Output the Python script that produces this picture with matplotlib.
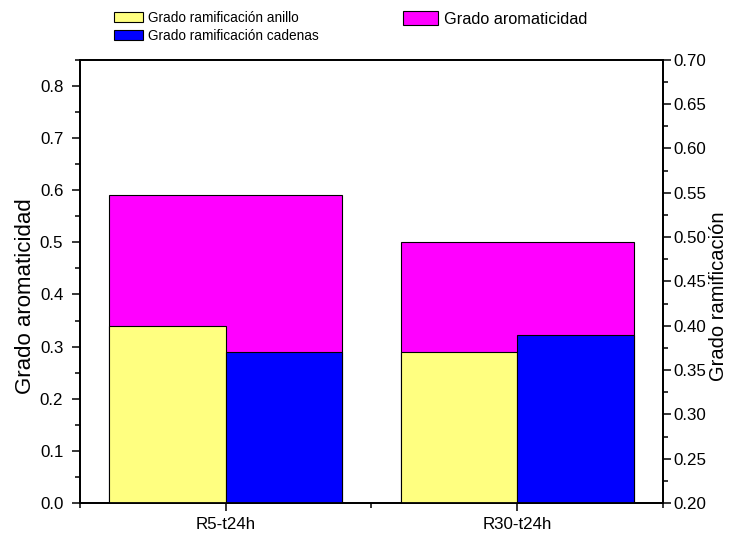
import matplotlib
matplotlib.use("Agg")
import matplotlib.pyplot as plt
from matplotlib.patches import Patch
from matplotlib.ticker import MultipleLocator, FormatStrFormatter

plt.rcParams['font.family'] = ['Liberation Sans', 'DejaVu Sans']

categories = ["R5-t24h", "R30-t24h"]
aromaticidad = [0.59, 0.50]
ramif_anillo = [0.40, 0.37]
ramif_cadenas = [0.37, 0.39]

col_arom = "#ff00ff"
col_anillo = "#ffff80"
col_cadenas = "#0000ff"

fig = plt.figure(figsize=(7.34, 5.34), dpi=100)
ax = fig.add_axes([0.109, 0.058, 0.794, 0.830])
ax2 = ax.twinx()

x = [1, 2]
ax.bar(x, aromaticidad, width=0.8, color=col_arom, edgecolor="black", linewidth=0.8, zorder=2)
ax2.bar([v - 0.2 for v in x], ramif_anillo, width=0.4, color=col_anillo,
        edgecolor="black", linewidth=0.8, zorder=2)
ax2.bar([v + 0.2 for v in x], ramif_cadenas, width=0.4, color=col_cadenas,
        edgecolor="black", linewidth=0.8, zorder=2)

ax.set_xlim(0.5, 2.5)
ax.set_ylim(0, 0.85)
ax2.set_ylim(0.20, 0.70)

ax.set_xticks(x)
ax.set_xticklabels(categories)
ax.xaxis.set_minor_locator(MultipleLocator(0.5))
ax.yaxis.set_major_locator(MultipleLocator(0.1))
ax.yaxis.set_minor_locator(MultipleLocator(0.05))
ax2.yaxis.set_major_locator(MultipleLocator(0.05))
ax2.yaxis.set_minor_locator(MultipleLocator(0.025))
ax.yaxis.set_major_formatter(FormatStrFormatter('%.1f'))
ax2.yaxis.set_major_formatter(FormatStrFormatter('%.2f'))

for a in (ax, ax2):
    a.tick_params(which='major', direction='out', length=6, width=1.1, labelsize=12.2)
    a.tick_params(which='minor', direction='out', length=3.5, width=1.1)
    for s in a.spines.values():
        s.set_linewidth(1.3)
ax.tick_params(axis='y', which='major', pad=6)
ax.tick_params(axis='x', which='major', pad=4)
ax2.tick_params(axis='y', which='major', pad=1.5)

ax.set_ylabel("Grado aromaticidad", fontsize=16, labelpad=3)
ax2.set_ylabel("Grado ramificación", fontsize=14.5, labelpad=2)
ax.yaxis.label.set_y(0.467)
ax2.yaxis.label.set_y(0.467)

fig.legend(handles=[Patch(facecolor=col_anillo, edgecolor="black", linewidth=0.8),
                    Patch(facecolor=col_cadenas, edgecolor="black", linewidth=0.8)],
           labels=["Grado ramificación anillo", "Grado ramificación cadenas"],
           loc="upper left", bbox_to_anchor=(0.1553, 0.980), frameon=False,
           fontsize=9.85, handlelength=2.1, handleheight=0.8, handletextpad=0.36,
           labelspacing=0.3, borderpad=0.0, borderaxespad=0.0)
fig.legend(handles=[Patch(facecolor=col_arom, edgecolor="black", linewidth=0.8)],
           labels=["Grado aromaticidad"],
           loc="upper left", bbox_to_anchor=(0.549, 0.979), frameon=False,
           fontsize=11.7, handlelength=2.15, handleheight=0.92, handletextpad=0.35,
           borderpad=0.0, borderaxespad=0.0)

fig.savefig("out.png", dpi=100)
